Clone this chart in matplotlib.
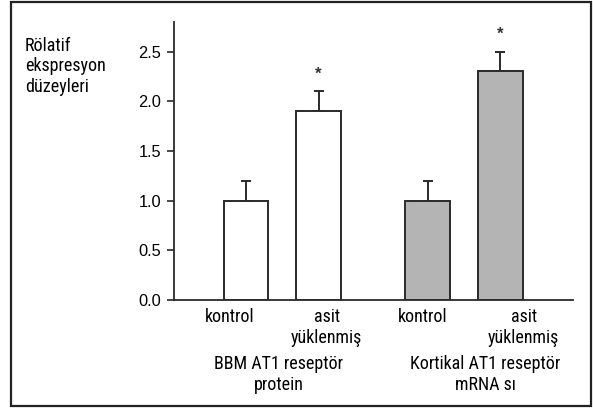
import matplotlib
matplotlib.use("Agg")
import matplotlib.pyplot as plt
from matplotlib.patches import Rectangle
from matplotlib import font_manager

names = {f.name for f in font_manager.fontManager.ttflist}
narrow = 'Liberation Sans'
for cand in ['Liberation Sans Narrow', 'Arial Narrow', 'Roboto Condensed', 'Archivo Narrow',
             'PT Sans Narrow', 'Pragati Narrow']:
    if cand in names:
        narrow = cand
        break

plt.rcParams['font.family'] = ['Liberation Sans', 'DejaVu Sans']

# Data
categories = ["kontrol", "asit\nyüklenmiş", "kontrol", "asit\nyüklenmiş"]
values = [1.0, 1.9, 1.0, 2.3]
errors = [0.2, 0.2, 0.2, 0.2]
significant = [False, True, False, True]
groups = ["BBM AT1 reseptör\nprotein", "Kortikal AT1 reseptör\nmRNA sı"]
yticks = [0.0, 0.5, 1.0, 1.5, 2.0, 2.5]
ylabel = "Rölatif\nekspresyon\ndüzeyleri"

# Layout
positions = [0, 1, 2.5, 3.5]
label_x = [-0.23, 1.11, 2.43, 3.82]
group_x = [0.45, 3.29]
colors = ["white", "white", "#b4b4b4", "#b4b4b4"]
edge = "#2a2a2a"
lab_font = [narrow, 'DejaVu Sans']
lab_size = 13

fig = plt.figure(figsize=(5.93, 4.08), dpi=100)
ax = fig.add_axes([0.2934, 0.2647, 0.6729, 0.6821])

ax.bar(positions, values, width=0.615, color=colors, edgecolor=edge, linewidth=1.4, zorder=2)
ax.errorbar(positions, values, yerr=[[0]*4, errors], fmt='none', ecolor=edge,
            elinewidth=1.4, capsize=3.3, capthick=1.4, zorder=1)

for p, v, e, s in zip(positions, values, errors, significant):
    if s:
        ax.text(p, v + e + 0.17, "*", ha='center', va='center', fontsize=12,
                color='#333333', fontweight='bold')

ax.set_xlim(-0.99, 4.5)
ax.set_ylim(0, 2.80)
ax.set_yticks(yticks)
ax.set_yticklabels([f"{t:.1f}" for t in yticks], fontsize=11.8)
ax.set_xticks([])
ax.tick_params(axis='y', direction='out', length=5, width=1.2, color=edge, pad=4)
for side in ['top', 'right']:
    ax.spines[side].set_visible(False)
for side in ['left', 'bottom']:
    ax.spines[side].set_color(edge)
    ax.spines[side].set_linewidth(1.3)

for x, lab in zip(label_x, categories):
    ax.text(x, -0.085, lab, ha='center', va='top', fontsize=lab_size, family=lab_font,
            linespacing=1.17, clip_on=False)
for x, lab in zip(group_x, groups):
    ax.text(x, -0.555, lab, ha='center', va='top', fontsize=lab_size, family=lab_font,
            linespacing=1.17, clip_on=False)

fig.text(25/593, 1 - 37/408, ylabel, ha='left', va='top', fontsize=lab_size, family=lab_font,
         linespacing=1.17)

fig.patches.append(Rectangle((11/593, 2/408), 580/593, 404/408, transform=fig.transFigure,
                             fill=False, edgecolor='#222222', linewidth=1.6))

fig.savefig("out.png", dpi=100)
